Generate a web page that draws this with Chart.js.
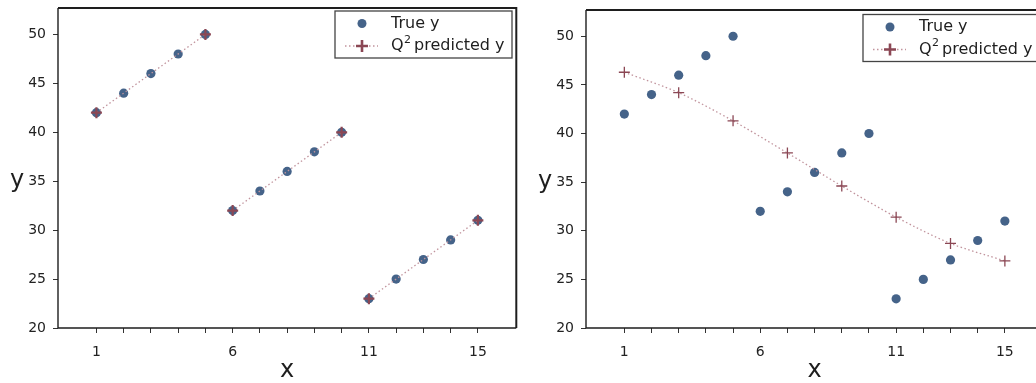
<!DOCTYPE html>
<html>
<head>
<meta charset="utf-8">
<script src="https://cdn.jsdelivr.net/npm/chart.js@4"></script>
<style>
  body { margin: 0; background: #fff; }
  .pane { position: absolute; top: 0; height: 383px; overflow: hidden; }
  #leftPane { left: 0; width: 520px; }
  #rightPane { left: 520px; width: 516px; }
</style>
</head>
<body>
<div class="pane" id="leftPane"><canvas id="leftChart" width="524" height="383"></canvas></div>
<div class="pane" id="rightPane"><canvas id="rightChart" width="530" height="383"></canvas></div>
<script>
// data
const xs = [1, 2, 3, 4, 5, 6, 7, 8, 9, 10, 11, 12, 13, 14, 15];
const trueY = [42, 44, 46, 48, 50, 32, 34, 36, 38, 40, 23, 25, 27, 29, 31];

// left panel: predictions only at the ends of each block
const leftPredX = [1, 5, 6, 10, 11, 15];
const leftPredY = [42, 50, 32, 40, 23, 31];
const leftPredBlock = [0, 0, 1, 1, 2, 2];

// right panel: predictions at every other x
const rightPredX = [1, 3, 5, 7, 9, 11, 13, 15];
const rightPredY = [46.3, 44.2, 41.3, 38.0, 34.6, 31.4, 28.7, 26.9];

const xTickLabels = [1, 6, 11, 15];
const yTicks = [20, 25, 30, 35, 40, 45, 50];
const legendLabels = ['True y', 'Q\u00b2predicted y'];

const dotColor = '#456389';
const crossColor = '#8b4754';
const lineColor = '#c1949d';
const inkColor = '#1e1e1e';
const fontFamily = '"DejaVu Sans", "Liberation Sans", Arial, sans-serif';

const framePlugin = {
  id: 'frame',
  afterDraw(chart) {
    const ctx = chart.ctx;
    const a = chart.chartArea;
    const o = chart.options.plugins.frame;
    ctx.save();
    ctx.strokeStyle = inkColor;
    // frame
    ctx.lineWidth = 2;
    ctx.beginPath();
    ctx.moveTo(a.left, a.top); ctx.lineTo(a.right, a.top); ctx.lineTo(a.right, a.bottom);
    ctx.stroke();
    ctx.lineWidth = 1.4;
    ctx.beginPath();
    ctx.moveTo(a.left, a.top); ctx.lineTo(a.left, a.bottom); ctx.lineTo(a.right, a.bottom);
    ctx.stroke();

    // axis titles, upright
    ctx.fillStyle = inkColor;
    ctx.font = '24px ' + fontFamily;
    ctx.textAlign = 'center';
    ctx.textBaseline = 'alphabetic';
    const y35 = chart.scales.y.getPixelForValue(35);
    ctx.fillText('y', a.left - 41, y35 + 6);
    ctx.fillText('x', (a.left + a.right) / 2, chart.height - 6);

    // legend box
    const bx = a.left + 277, by = a.top + 3 + o.legendDy, bw = 177, bh = 47;
    ctx.fillStyle = '#fff';
    ctx.fillRect(bx, by, bw, bh);
    ctx.strokeStyle = '#444';
    ctx.lineWidth = 1.3;
    ctx.strokeRect(bx, by, bw, bh);

    const mx = bx + 27, tx = bx + 56;
    const r1 = by + 12.5, r2 = by + 35;
    ctx.fillStyle = dotColor;
    ctx.beginPath(); ctx.arc(mx, r1, 4.5, 0, Math.PI * 2); ctx.fill();

    ctx.strokeStyle = lineColor;
    ctx.lineWidth = 1.3;
    ctx.setLineDash([1.5, 2.5]);
    ctx.beginPath(); ctx.moveTo(bx + 10, r2); ctx.lineTo(bx + 43, r2); ctx.stroke();
    ctx.setLineDash([]);
    ctx.strokeStyle = crossColor;
    ctx.lineWidth = 2.6;
    ctx.beginPath();
    ctx.moveTo(mx - 6, r2); ctx.lineTo(mx + 6, r2);
    ctx.moveTo(mx, r2 - 6); ctx.lineTo(mx, r2 + 6);
    ctx.stroke();

    ctx.fillStyle = inkColor;
    ctx.textAlign = 'left';
    ctx.textBaseline = 'middle';
    ctx.font = '16px ' + fontFamily;
    ctx.fillText(legendLabels[0], tx, r1);
    const parts = legendLabels[1].split('\u00b2');
    ctx.fillText(parts[0], tx, r2);
    let cx = tx + ctx.measureText(parts[0]).width + 0.5;
    ctx.font = '11px ' + fontFamily;
    ctx.fillText('2', cx, r2 - 6);
    cx += ctx.measureText('2').width + 3;
    ctx.font = '16px ' + fontFamily;
    ctx.fillText(parts[1], cx, r2);
    ctx.restore();
  }
};

function noPad(s) {
  s.paddingTop = 0; s.paddingBottom = 0; s.paddingLeft = 0; s.paddingRight = 0;
}

function makeChart(id, predX, predY, opt) {
  const predData = predX.map((x, i) => ({ x: x, y: predY[i] }));
  const trueData = xs.map((x, i) => ({ x: x, y: trueY[i] }));
  const predSet = {
    data: predData,
    showLine: true,
    borderColor: lineColor,
    borderWidth: 1.3,
    borderDash: [1.5, 2.5],
    tension: opt.tension,
    pointStyle: 'cross',
    pointRadius: opt.crossSize,
    pointBorderColor: crossColor,
    pointBorderWidth: opt.crossWidth,
    pointBackgroundColor: crossColor
  };
  if (opt.block) {
    predSet.segment = {
      borderColor: c => opt.block[c.p0DataIndex] === opt.block[c.p1DataIndex] ? lineColor : 'rgba(0,0,0,0)'
    };
  }
  return new Chart(document.getElementById(id), {
    type: 'scatter',
    data: {
      datasets: [
        predSet,
        {
          data: trueData,
          pointRadius: 4.6,
          pointBorderWidth: 0,
          pointBackgroundColor: dotColor
        }
      ]
    },
    options: {
      responsive: false,
      animation: false,
      events: [],
      layout: { padding: { top: opt.top, right: 0, left: 0, bottom: 0 } },
      plugins: {
        legend: { display: false },
        tooltip: { enabled: false },
        frame: { legendDy: opt.legendDy }
      },
      scales: {
        x: {
          type: 'linear',
          min: -0.41,
          max: 16.41,
          afterBuildTicks: s => { s.ticks = xs.map(v => ({ value: v })); },
          afterFit: s => { s.height = 55; noPad(s); },
          ticks: {
            autoSkip: false,
            maxRotation: 0,
            padding: 11,
            color: '#222',
            font: { family: fontFamily, size: 14 },
            callback: v => xTickLabels.includes(v) ? String(v) : ''
          },
          grid: { drawOnChartArea: false, drawTicks: true, tickLength: 5, color: '#333', lineWidth: 1 },
          border: { display: false }
        },
        y: {
          min: 20,
          max: 52.7,
          afterBuildTicks: s => { s.ticks = yTicks.map(v => ({ value: v })); },
          afterFit: s => { s.width = opt.yWidth; noPad(s); },
          ticks: {
            padding: 7,
            color: '#222',
            font: { family: fontFamily, size: 14 }
          },
          grid: { drawOnChartArea: false, drawTicks: true, tickLength: 5, color: '#333', lineWidth: 1 },
          border: { display: false }
        }
      }
    },
    plugins: [framePlugin]
  });
}

makeChart('leftChart', leftPredX, leftPredY, {
  yWidth: 58, top: 8, tension: 0, crossSize: 5.5, crossWidth: 2.2, block: leftPredBlock, legendDy: 0
});
makeChart('rightChart', rightPredX, rightPredY, {
  yWidth: 66, top: 10, tension: 0.3, crossSize: 5.5, crossWidth: 1.3, block: null, legendDy: 1.5
});
</script>
</body>
</html>
